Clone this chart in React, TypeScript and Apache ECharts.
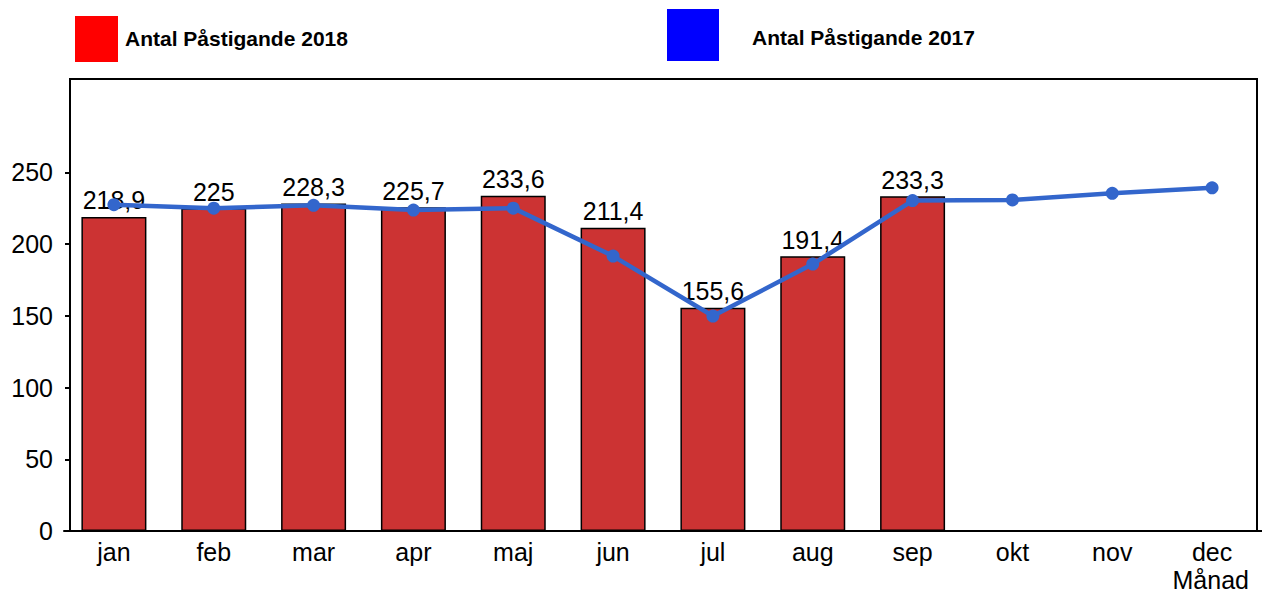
import React, { useEffect, useRef } from "react";
import * as echarts from "echarts";

const months = ["jan", "feb", "mar", "apr", "maj", "jun", "jul", "aug", "sep", "okt", "nov", "dec"];
const passengers2018: (number | null)[] = [218.9, 225, 228.3, 225.7, 233.6, 211.4, 155.6, 191.4, 233.3, null, null, null];
const passengers2017: number[] = [227.4, 225, 227, 223.7, 225, 191.6, 149.8, 186, 230.3, 230.7, 235.3, 239.2];
const yTicks = [0, 50, 100, 150, 200, 250];
const legend2018 = "Antal Påstigande 2018";
const legend2017 = "Antal Påstigande 2017";
const xAxisName = "Månad";

const FONT = "'Liberation Sans', Arial, sans-serif";
const FS = 25;

export default function App() {
  const ref = useRef<HTMLDivElement>(null);
  useEffect(() => {
    if (!ref.current) return;
    const chart = echarts.init(ref.current, undefined, { renderer: "svg" });
    chart.setOption({
      animation: false,
      backgroundColor: "#ffffff",
      textStyle: { fontFamily: FONT },
      grid: { left: 64, width: 1200, top: 79, height: 452 },
      xAxis: {
        type: "category",
        data: months,
        axisLine: { show: true, lineStyle: { color: "#000", width: 2 } },
        axisTick: { show: false },
        axisLabel: { color: "#000", fontSize: FS, margin: 8, fontFamily: FONT },
      },
      yAxis: {
        type: "value",
        min: 0,
        max: 315,
        interval: 50,
        offset: -6,
        splitLine: { show: false },
        axisLine: { show: false },
        axisTick: {
          show: true,
          length: 5,
          customValues: yTicks,
          lineStyle: { color: "#000", width: 2 },
        },
        axisLabel: {
          color: "#000",
          fontSize: FS,
          margin: 17,
          fontFamily: FONT,
          customValues: yTicks,
        },
      },
      series: [
        {
          name: legend2018,
          type: "bar",
          data: passengers2018,
          barWidth: 65,
          z: 2,
          itemStyle: { color: "#CC3333", borderColor: "#000", borderWidth: 1.5 },
          label: {
            show: true,
            position: "top",
            distance: 4,
            color: "#000",
            fontSize: FS,
            fontFamily: FONT,
            formatter: (p: any) => String(p.value).replace(".", ","),
          },
        },
        {
          name: legend2017,
          type: "line",
          data: passengers2017,
          z: 5,
          symbol: "circle",
          symbolSize: 13,
          lineStyle: { color: "#3366CC", width: 4.5 },
          itemStyle: { color: "#3366CC" },
        },
      ],
      graphic: [
        {
          type: "rect",
          shape: { x: 70, y: 79, width: 1187, height: 452 },
          style: { fill: "none", stroke: "#000", lineWidth: 2 },
          z: 10,
          silent: true,
        },
        {
          type: "rect",
          shape: { x: 75, y: 16, width: 43, height: 46 },
          style: { fill: "#FF0000" },
        },
        {
          type: "text",
          x: 125,
          y: 38,
          style: {
            text: legend2018,
            fill: "#000",
            font: `bold 21px ${FONT}`,
            verticalAlign: "middle",
          },
        },
        {
          type: "rect",
          shape: { x: 667, y: 9, width: 52, height: 52 },
          style: { fill: "#0000FF" },
        },
        {
          type: "text",
          x: 752,
          y: 37,
          style: {
            text: legend2017,
            fill: "#000",
            font: `bold 21px ${FONT}`,
            verticalAlign: "middle",
          },
        },
        {
          type: "text",
          x: 1249,
          y: 580,
          style: {
            text: xAxisName,
            fill: "#000",
            font: `${FS}px ${FONT}`,
            align: "right",
            verticalAlign: "middle",
          },
        },
      ],
    });
    return () => chart.dispose();
  }, []);
  return (
    <div
      ref={ref}
      style={{ position: "fixed", left: 0, top: 0, width: 1262, height: 594 }}
    />
  );
}
